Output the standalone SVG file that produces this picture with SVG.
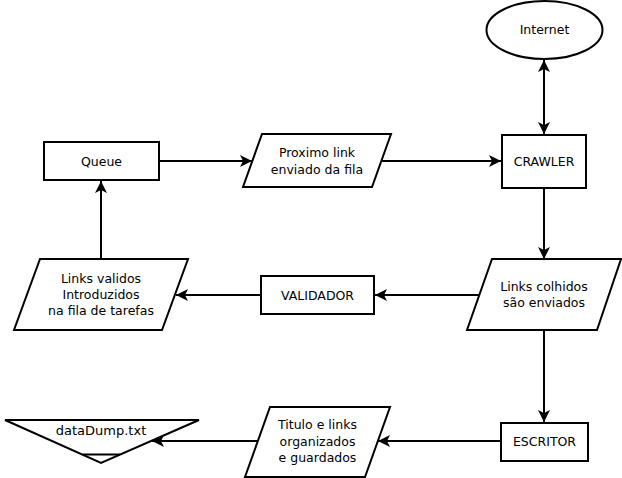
<svg xmlns="http://www.w3.org/2000/svg" width="622" height="478" viewBox="0 0 622 478">
<style>
.s{fill:#fff;stroke:#000;stroke-width:2}
.c{fill:none;stroke:#000;stroke-width:2}
text{font-family:"DejaVu Sans",sans-serif;font-size:12.5px;text-anchor:middle;fill:#000}
</style>
<defs>
<marker id="a" markerUnits="userSpaceOnUse" markerWidth="14" markerHeight="14" viewBox="0 0 14 14" refX="13" refY="7" orient="auto-start-reverse">
<path d="M1,1 L13,7 L1,13 L4,7 z" fill="#000"/>
</marker>
</defs>
<g id="connectors">
<path class="c" d="M544,60 V134" marker-start="url(#a)" marker-end="url(#a)"/>
<path class="c" d="M159,161 H252" marker-end="url(#a)"/>
<path class="c" d="M382,161 H501" marker-end="url(#a)"/>
<path class="c" d="M544,188 V259" marker-end="url(#a)"/>
<path class="c" d="M479,295 H375" marker-end="url(#a)"/>
<path class="c" d="M261,295 H176" marker-end="url(#a)"/>
<path class="c" d="M101,259 V181" marker-end="url(#a)"/>
<path class="c" d="M544,330 V422" marker-end="url(#a)"/>
<path class="c" d="M501,441 H378" marker-end="url(#a)"/>
<path class="c" d="M258,441 H152" marker-end="url(#a)"/>
</g>
<g id="internet">
<ellipse class="s" cx="544.5" cy="30" rx="58" ry="29"/>
<text x="544.5" y="34">Internet</text>
</g>
<g id="crawler">
<rect class="s" x="502" y="135" width="84" height="53"/>
<text x="544" y="166">CRAWLER</text>
</g>
<g id="queue">
<rect class="s" x="44" y="142" width="115" height="38"/>
<text x="101.5" y="166">Queue</text>
</g>
<g id="proximo">
<polygon class="s" points="262,134 391,134 372,187 243,187"/>
<text x="317" y="157">Proximo link</text>
<text x="317" y="174">enviado da fila</text>
</g>
<g id="colhidos">
<polygon class="s" points="492,259 621,259 597,330 467,330"/>
<text x="544" y="291">Links colhidos</text>
<text x="544" y="307">são enviados</text>
</g>
<g id="validador">
<rect class="s" x="261" y="276" width="113" height="38"/>
<text x="317.5" y="299.5">VALIDADOR</text>
</g>
<g id="validos">
<polygon class="s" points="40,259 188,259 162,330 14,330"/>
<text x="101" y="283">Links validos</text>
<text x="101" y="299">Introduzidos</text>
<text x="101" y="315"> na fila de tarefas</text>
</g>
<g id="escritor">
<rect class="s" x="501" y="423" width="87" height="38"/>
<text x="544.5" y="446">ESCRITOR</text>
</g>
<g id="titulo">
<polygon class="s" points="270,407 390,407 365,477 245,477"/>
<text x="317.5" y="429">Titulo e links</text>
<text x="317.5" y="446">organizados</text>
<text x="317.5" y="462">e guardados</text>
</g>
<g id="datadump">
<polygon class="s" points="5,420 199,420 101,463"/>
<line class="c" x1="83" y1="454.5" x2="120" y2="454.5" stroke-width="1.5"/>
<text x="101" y="435" style="font-size:13px">dataDump.txt</text>
</g>
</svg>
